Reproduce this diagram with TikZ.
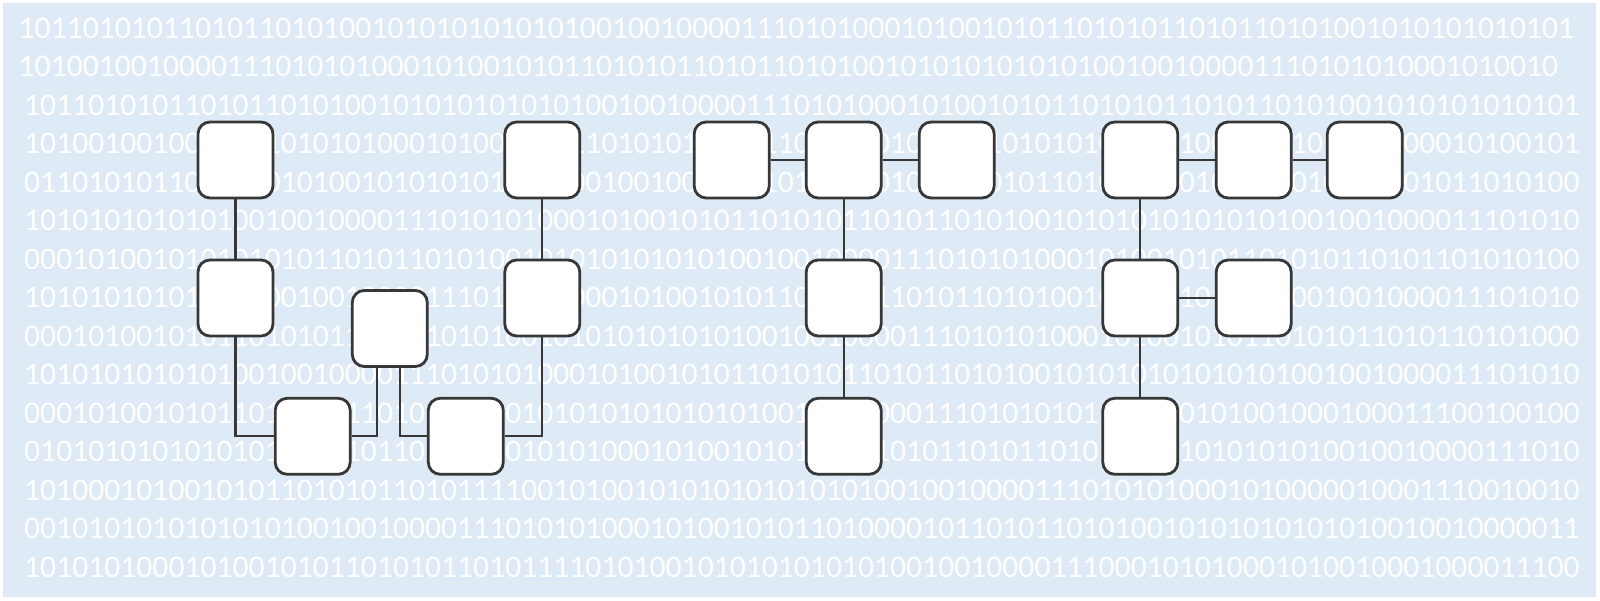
\documentclass[tikz,border=0pt]{standalone}
\usepackage{fontspec}
\setmainfont{Carlito}
\usepackage{tikz}
\usepackage{xcolor}
\definecolor{PanelBlue}{RGB}{222,234,246}
\definecolor{EdgeGray}{RGB}{55,55,55}

\begin{document}
\begin{tikzpicture}[x=0.1mm, y=-0.1mm,
  bits/.style={anchor=west, inner sep=0pt, text=white,
               font=\fontsize{9}{9}\selectfont},
  cell/.style={draw=EdgeGray, fill=white, rounded corners=1.2mm,
               line width=0.8pt, minimum width=7.5mm, minimum height=7.6mm,
               inner sep=0pt},
  link/.style={EdgeGray, line width=0.65pt},
]
  \useasboundingbox (0,0) rectangle (1600,601);
  \fill[PanelBlue] (3,3) rectangle (1596,597);

  \node[bits] (r1) at (18,28) {1011010101101011010100101010101010100100100001110101000101001010110101011010110101001010101010101};
  \node[bits] (r2) at (18,66.5) {101001001000011101010100010100101011010101101011010100101010101010100100100001110101010001010010};
  \node[bits] (r3) at (23.5,105) {1011010101101011010100101010101010100100100001110101000101001010110101011010110101001010101010101};
  \node[bits] (r4) at (23.5,143.5) {1010010010000111010101000101001010110101011010110101001010101010101001001000011101010100010100101};
  \node[bits] (r5) at (23.5,182) {0110101011010110101001010101010101001001000011101010001010010101101010110101101010100101011010100};
  \node[bits] (r6) at (23.5,220.5) {1010101010101001001000011101010100010100101011010101101011010100101010101010101001001000011101010};
  \node[bits] (r7) at (23.5,259) {0001010010101010101101011010100101010101010100100100001110101010001010010101101010110101101010100};
  \node[bits] (r8) at (23.5,297.5) {1010101010101010010010000111010101000101001010110101011010110101001010101010101001001000011101010};
  \node[bits] (r9) at (23.5,336) {0001010010101101010110101101010010101010101010010010000111010101000101001010110101011010110101000};
  \node[bits] (r10) at (23.5,374.5) {1010101010101001001000011101010100010100101011010101101011010100101010101010101001001000011101010};
  \node[bits] (r11) at (23.5,413) {0001010010101101010111010101010101010101010101001001000011101010101101100101001000100011100100100};
  \node[bits] (r12) at (23.5,451.5) {0101010101010101011010110101000101010001010010101010110101101011010100101010101010010010000111010};
  \node[bits] (r13) at (23.5,490) {1010001010010101101010110101111001010010101010101010100100100001110101010001010000010001110010010};
  \node[bits] (r14) at (23.5,528.5) {0010101010101010100100100001110101010001010010101101000010110101101010010101010101010010010000011};
  \node[bits] (r15) at (23.5,567) {1010101000101001010110101011010111101010010101010101010010010000111000101010001010010001000011100};

  \node[cell] (w1) at (235.5,160) {};
  \node[cell] (w2) at (235.5,298) {};
  \node[cell] (w3) at (312.7,436.3) {};
  \node[cell] (w4) at (389.8,328.5) {};
  \node[cell] (w5) at (465.8,436.3) {};
  \node[cell] (w6) at (542.3,298) {};
  \node[cell] (w7) at (542.3,160) {};

  \node[cell] (t1) at (731.7,160) {};
  \node[cell] (t2) at (843.7,160) {};
  \node[cell] (t3) at (956.7,160) {};
  \node[cell] (t4) at (843.7,298) {};
  \node[cell] (t5) at (843.7,436.3) {};

  \node[cell] (f1) at (1140.3,160) {};
  \node[cell] (f2) at (1253.7,160) {};
  \node[cell] (f3) at (1364.8,160) {};
  \node[cell] (f4) at (1140.3,298) {};
  \node[cell] (f5) at (1253.7,298) {};
  \node[cell] (f6) at (1140.3,436.3) {};

  \draw[link] (w1) -- (w2);
  \draw[link] (w2) |- (w3);
  \draw[link] (w3) -| ([xshift=-1.3mm]w4.south);
  \draw[link] ([xshift=1mm]w4.south) |- (w5);
  \draw[link] (w5) -| (w6);
  \draw[link] (w6) -- (w7);

  \draw[link] (t1) -- (t2);
  \draw[link] (t2) -- (t3);
  \draw[link] (t2) -- (t4);
  \draw[link] (t4) -- (t5);

  \draw[link] (f1) -- (f2);
  \draw[link] (f2) -- (f3);
  \draw[link] (f1) -- (f4);
  \draw[link] (f4) -- (f5);
  \draw[link] (f4) -- (f6);
\end{tikzpicture}
\end{document}
